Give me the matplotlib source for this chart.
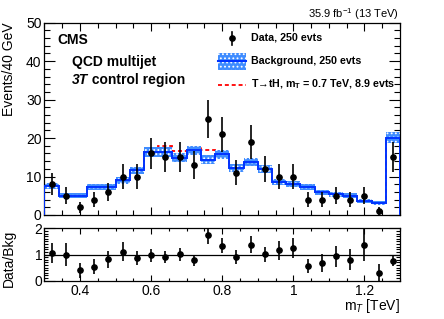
import matplotlib
matplotlib.use("Agg")
import matplotlib.pyplot as plt
from matplotlib.lines import Line2D
from matplotlib.patches import Rectangle
from matplotlib.ticker import MultipleLocator
import numpy as np

plt.rcParams["font.family"] = ["Liberation Sans", "DejaVu Sans"]
plt.rcParams["mathtext.fontset"] = "custom"
plt.rcParams["mathtext.rm"] = "Liberation Sans"
plt.rcParams["mathtext.it"] = "Liberation Sans:italic"
plt.rcParams["mathtext.bf"] = "Liberation Sans:bold"
plt.rcParams["hatch.linewidth"] = 0.8

# m_T bins, 40 GeV wide from 0.3 to 1.3 TeV
edges = np.round(np.arange(0.30, 1.3001, 0.04), 2)
centers = 0.5 * (edges[:-1] + edges[1:])

data = np.array([8, 5, 2, 4, 6, 10, 10, 16, 15, 15, 13, 25, 21,
                 11, 19, 12, 10, 10, 4, 4, 5, 4, 5, 1, 15])
bkg = np.array([7.6, 5.0, 5.0, 7.4, 7.4, 9.0, 11.6, 16.4, 16.4, 14.9, 16.8, 14.4, 15.8,
                12.3, 13.8, 11.9, 8.6, 8.0, 7.2, 5.9, 5.4, 5.0, 3.7, 3.2, 20.1])
sig = np.array([0, 0, 0, 0, 0, 0.1, 0.3, 0.5, 1.5, 1.8, 0.9, 2.4, 0.4,
                0.5, 0.3, 0.2, 0, 0, 0, 0, 0, 0, 0, 0, 0])
bkg_unc = 0.05 * bkg + 0.4

W, H = 444, 319
fig = plt.figure(figsize=(W / 100, H / 100), dpi=100)

def fx(px):
    return px / W

def fy(py):
    return 1 - py / H

x0, x1 = 44.4, 400
ax = fig.add_axes([fx(x0), fy(215), (x1 - x0) / W, (215 - 22.7) / H])
rax = fig.add_axes([fx(x0), fy(280.7), (x1 - x0) / W, (280.7 - 228.3) / H])

blue = "#0033ff"
band_col = "#3f8cff"

# signal on top of background
ax.stairs(bkg + sig, edges, baseline=None, color="red", lw=1.3,
          linestyle=(0, (2.2, 1.6)), zorder=1)
ax.stairs(bkg + bkg_unc, edges, baseline=bkg - bkg_unc, fill=True,
          facecolor=band_col, edgecolor="white", hatch="....", lw=0, zorder=2)
ax.stairs(bkg, edges, baseline=0, color=blue, lw=1.4, zorder=3)
ax.errorbar(centers, data, yerr=np.sqrt(data), fmt="o", color="black", ms=3.8,
            elinewidth=1.2, capsize=0, zorder=5)

ax.set_xlim(0.3, 1.3)
ax.set_ylim(0, 50)
ax.xaxis.set_major_locator(MultipleLocator(0.2))
ax.xaxis.set_minor_locator(MultipleLocator(0.05))
ax.yaxis.set_major_locator(MultipleLocator(10))
ax.yaxis.set_minor_locator(MultipleLocator(2))
ax.tick_params(which="both", direction="in", top=True, right=True, labelbottom=False,
               labelsize=10, width=0.8)
ax.tick_params(axis="y", which="major", length=8, pad=2)
ax.tick_params(axis="y", which="minor", length=4)
ax.tick_params(axis="x", which="major", length=6)
ax.tick_params(axis="x", which="minor", length=3.5)

# ratio panel
ratio = data / bkg
rerr = np.sqrt(data) / bkg
rax.axhline(1, color="black", lw=0.9, zorder=1)
rax.errorbar(centers, ratio, yerr=rerr, fmt="o", color="black", ms=3.8,
             elinewidth=1.2, capsize=0, zorder=5)
rax.set_xlim(0.3, 1.3)
rax.set_ylim(0, 2)
rax.xaxis.set_major_locator(MultipleLocator(0.2))
rax.xaxis.set_minor_locator(MultipleLocator(0.05))
rax.yaxis.set_major_locator(MultipleLocator(1))
rax.yaxis.set_minor_locator(MultipleLocator(0.1))
rax.set_xticks([0.4, 0.6, 0.8, 1.0, 1.2], ["0.4", "0.6", "0.8", "1", "1.2"])
rax.tick_params(which="both", direction="in", top=True, right=True, labelsize=10, width=0.8)
rax.tick_params(axis="y", which="major", length=8, pad=1.5)
rax.tick_params(axis="y", which="minor", length=3)
rax.tick_params(axis="x", which="major", length=4, pad=2.5)
rax.tick_params(axis="x", which="minor", length=2.5)

for a in (ax, rax):
    for s in a.spines.values():
        s.set_linewidth(0.9)

# axis titles
fig.text(fx(9), fy(22.7), "Events/40 GeV", rotation=90, ha="center", va="top", fontsize=10)
fig.text(fx(8.5), fy(258), "Data/Bkg", rotation=90, ha="center", va="center", fontsize=10)
fig.text(fx(400), fy(310), r"m$_T$ [TeV]", ha="right", va="baseline", fontsize=10)

# labels
fig.text(fx(399), fy(14), r"35.9 fb$^{-1}$ (13 TeV)", ha="right", va="center", fontsize=8)
fig.text(fx(57.5), fy(40), "CMS", ha="left", va="center", fontsize=10, fontweight="bold")
fig.text(fx(71.5), fy(62.3), "QCD multijet", ha="left", va="center", fontsize=10, fontweight="bold")
t3 = fig.text(fx(71.5), fy(80), "3T", ha="left", va="center", fontsize=10,
              fontweight="bold", fontstyle="italic")
ax.annotate(" control region", xy=(1, 0), xycoords=t3, ha="left", va="bottom",
            fontsize=10, fontweight="bold")

# legend
fig.add_artist(Line2D([fx(232), fx(232)], [fy(31.5), fy(45)], color="black", lw=1.2))
fig.add_artist(Line2D([fx(232)], [fy(37.7)], marker="o", ms=3.8, color="black", lw=0))
fig.text(fx(251), fy(37.7), "Data, 250 evts", ha="left", va="center", fontsize=7.7,
         fontweight="bold")
fig.add_artist(Rectangle((fx(218), fy(70)), (245.7 - 218) / W, 17.3 / H, facecolor=band_col,
                         edgecolor="white", hatch="....", lw=0))
fig.add_artist(Line2D([fx(218), fx(245.7)], [fy(61.3), fy(61.3)], color=blue, lw=1.5))
fig.text(fx(251), fy(61.3), "Background, 250 evts", ha="left", va="center", fontsize=7.7,
         fontweight="bold")
fig.add_artist(Line2D([fx(218), fx(245.7)], [fy(84.7), fy(84.7)], color="red", lw=1.3,
                      linestyle=(0, (2.2, 1.6))))
fig.text(fx(251), fy(84.5), "T\u2192tH, m$_\\mathbf{T}$ = 0.7 TeV, 8.9 evts", ha="left",
         va="center", fontsize=7.7, fontweight="bold")

fig.savefig("out.png", dpi=100)
